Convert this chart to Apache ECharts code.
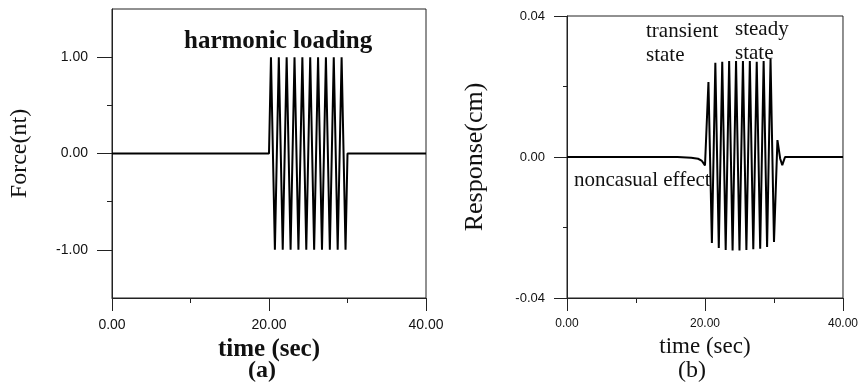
<!DOCTYPE html>
<html><head><meta charset="utf-8">
<script src="https://cdn.jsdelivr.net/npm/echarts@6/dist/echarts.min.js"></script>
<style>html,body{margin:0;padding:0;background:#fff}#c{width:861px;height:383px}</style>
</head><body><div id="c"></div>
<script>
// ---- data ----
const forceTime  = [0, 20.0, 20.25, 20.75, 21.25, 21.75, 22.25, 22.75, 23.25, 23.75, 24.25, 24.75, 25.25, 25.75, 26.25, 26.75, 27.25, 27.75, 28.25, 28.75, 29.25, 29.75, 30.0, 40];
const forceValue = [0, 0,    1,    -1,    1,     -1,    1,     -1,    1,     -1,    1,     -1,    1,     -1,    1,     -1,    1,     -1,    1,     -1,    1,     -1,    0,    0];

const respTime  = [0, 16, 18, 19, 19.5, 19.8, 20.0, 20.5, 21.0, 21.5, 22.0, 22.5, 23.0, 23.5, 24.0, 24.5, 25.0, 25.5, 26.0, 26.5, 27.0, 27.5, 28.0, 28.5, 29.0, 29.5, 30.0, 30.5, 30.9, 31.2, 31.6, 40];
const respValue = [0, 0, -0.0002, -0.0005, -0.001, -0.0018, -0.0024, 0.0213, -0.0244, 0.0267, -0.0258, 0.027, -0.0264, 0.0272, -0.0265, 0.0272, -0.0265, 0.0272, -0.0264, 0.0272, -0.0262, 0.027, -0.026, 0.0272, -0.0255, 0.0278, -0.0241, 0.0048, -0.0005, -0.0023, 0, 0];

const xTickValues = [0, 20, 40];
const forceTickLabels = [-1, 0, 1];
const forceMinorTicks = [-0.5, 0.5];
const respTickLabels = [-0.04, 0, 0.04];
const respMinorTicks = [-0.02, 0.02];

const forceData = forceTime.map((t, i) => [t, forceValue[i]]);
const respData = respTime.map((t, i) => [t, respValue[i]]);

const serif = '"Liberation Serif", "Times New Roman", serif';
const sans = '"Liberation Sans", Arial, sans-serif';
const ink = '#111';

const G0 = {left: 112, top: 9, width: 314, height: 289};
const G1 = {left: 567, top: 16, width: 279, height: 282};

function grid(g, border) {
  return Object.assign({show: border, borderColor: '#222', borderWidth: 1, backgroundColor: 'transparent', containLabel: false}, g);
}

function xAxis(gi, name, bold, size, labelSize) {
  return {
    type: 'value', gridIndex: gi, min: 0, max: 40, interval: 20,
    axisLine: {show: true, onZero: false, lineStyle: {color: '#222', width: 1}},
    axisTick: {show: true, inside: false, length: 13, lineStyle: {color: '#222'}},
    minorTick: {show: true, splitNumber: 2, length: 5, lineStyle: {color: '#222'}},
    splitLine: {show: false}, minorSplitLine: {show: false},
    axisLabel: {color: ink, fontFamily: sans, fontSize: labelSize, margin: 20, formatter: v => v.toFixed(2)},
    name: name, nameLocation: 'middle', nameGap: 37,
    nameTextStyle: {color: ink, fontFamily: serif, fontSize: size, fontWeight: bold ? 'bold' : 'normal'}
  };
}

const option = {
  animation: false,
  backgroundColor: '#fff',
  grid: [grid(G0, true), grid(G1, true), grid(G0, false), grid(G1, false)],
  xAxis: [
    xAxis(0, 'time (sec)', true, 25, 14),
    xAxis(1, 'time (sec)', false, 23, 12),
    {type: 'value', gridIndex: 2, min: 0, max: 40, show: false},
    {type: 'value', gridIndex: 3, min: 0, max: 40, show: false}
  ],
  yAxis: [
    {
      type: 'value', gridIndex: 0, min: -1.5, max: 1.5, interval: 0.5,
      axisLine: {show: true, onZero: false, lineStyle: {color: '#222'}},
      axisTick: {show: true, length: 15, customValues: forceTickLabels, lineStyle: {color: '#222'}},
      axisLabel: {customValues: forceTickLabels, color: ink, fontFamily: sans, fontSize: 14, margin: 24, formatter: v => v.toFixed(2)},
      splitLine: {show: false},
      name: 'Force(nt)', nameLocation: 'middle', nameGap: 80,
      nameTextStyle: {color: ink, fontFamily: serif, fontSize: 24}
    },
    {
      type: 'value', gridIndex: 1, min: -0.04, max: 0.04, interval: 0.02,
      axisLine: {show: true, onZero: false, lineStyle: {color: '#222'}},
      axisTick: {show: true, length: 13, customValues: respTickLabels, lineStyle: {color: '#222'}},
      axisLabel: {customValues: respTickLabels, color: ink, fontFamily: sans, fontSize: 13, margin: 22, formatter: v => v.toFixed(2)},
      splitLine: {show: false},
      name: 'Response(cm)', nameLocation: 'middle', nameGap: 79,
      nameTextStyle: {color: ink, fontFamily: serif, fontSize: 26}
    },
    {
      type: 'value', gridIndex: 2, min: -1.5, max: 1.5,
      axisLine: {show: false}, axisLabel: {show: false}, splitLine: {show: false},
      axisTick: {show: true, length: 5, customValues: forceMinorTicks, lineStyle: {color: '#222'}}
    },
    {
      type: 'value', gridIndex: 3, min: -0.04, max: 0.04,
      axisLine: {show: false}, axisLabel: {show: false}, splitLine: {show: false},
      axisTick: {show: true, length: 4, customValues: respMinorTicks, lineStyle: {color: '#222'}}
    }
  ],
  series: [
    {type: 'line', xAxisIndex: 0, yAxisIndex: 0, data: forceData, showSymbol: false, symbol: 'none',
     lineStyle: {color: '#000', width: 2}},
    {type: 'line', xAxisIndex: 1, yAxisIndex: 1, data: respData, showSymbol: false, symbol: 'none',
     lineStyle: {color: '#000', width: 2}}
  ],
  graphic: [
    {type: 'text', x: 184, y: 42, style: {text: 'harmonic loading', font: 'bold 25px ' + serif, fill: ink, align: 'left', verticalAlign: 'middle'}},
    {type: 'text', x: 646, y: 31, style: {text: 'transient', font: '21px ' + serif, fill: ink, align: 'left', verticalAlign: 'middle'}},
    {type: 'text', x: 646, y: 55, style: {text: 'state', font: '21px ' + serif, fill: ink, align: 'left', verticalAlign: 'middle'}},
    {type: 'text', x: 735, y: 29, style: {text: 'steady', font: '21px ' + serif, fill: ink, align: 'left', verticalAlign: 'middle'}},
    {type: 'text', x: 735, y: 53, style: {text: 'state', font: '21px ' + serif, fill: ink, align: 'left', verticalAlign: 'middle'}},
    {type: 'text', x: 574, y: 180, style: {text: 'noncasual effect', font: '21px ' + serif, fill: ink, align: 'left', verticalAlign: 'middle'}},
    {type: 'text', x: 262, y: 371, style: {text: '(a)', font: 'bold 24px ' + serif, fill: ink, align: 'center', verticalAlign: 'middle'}},
    {type: 'text', x: 692, y: 371, style: {text: '(b)', font: '24px ' + serif, fill: ink, align: 'center', verticalAlign: 'middle'}}
  ]
};

const chart = echarts.init(document.getElementById('c'), null, {renderer: 'canvas'});
chart.setOption(option);
</script>
</body></html>
